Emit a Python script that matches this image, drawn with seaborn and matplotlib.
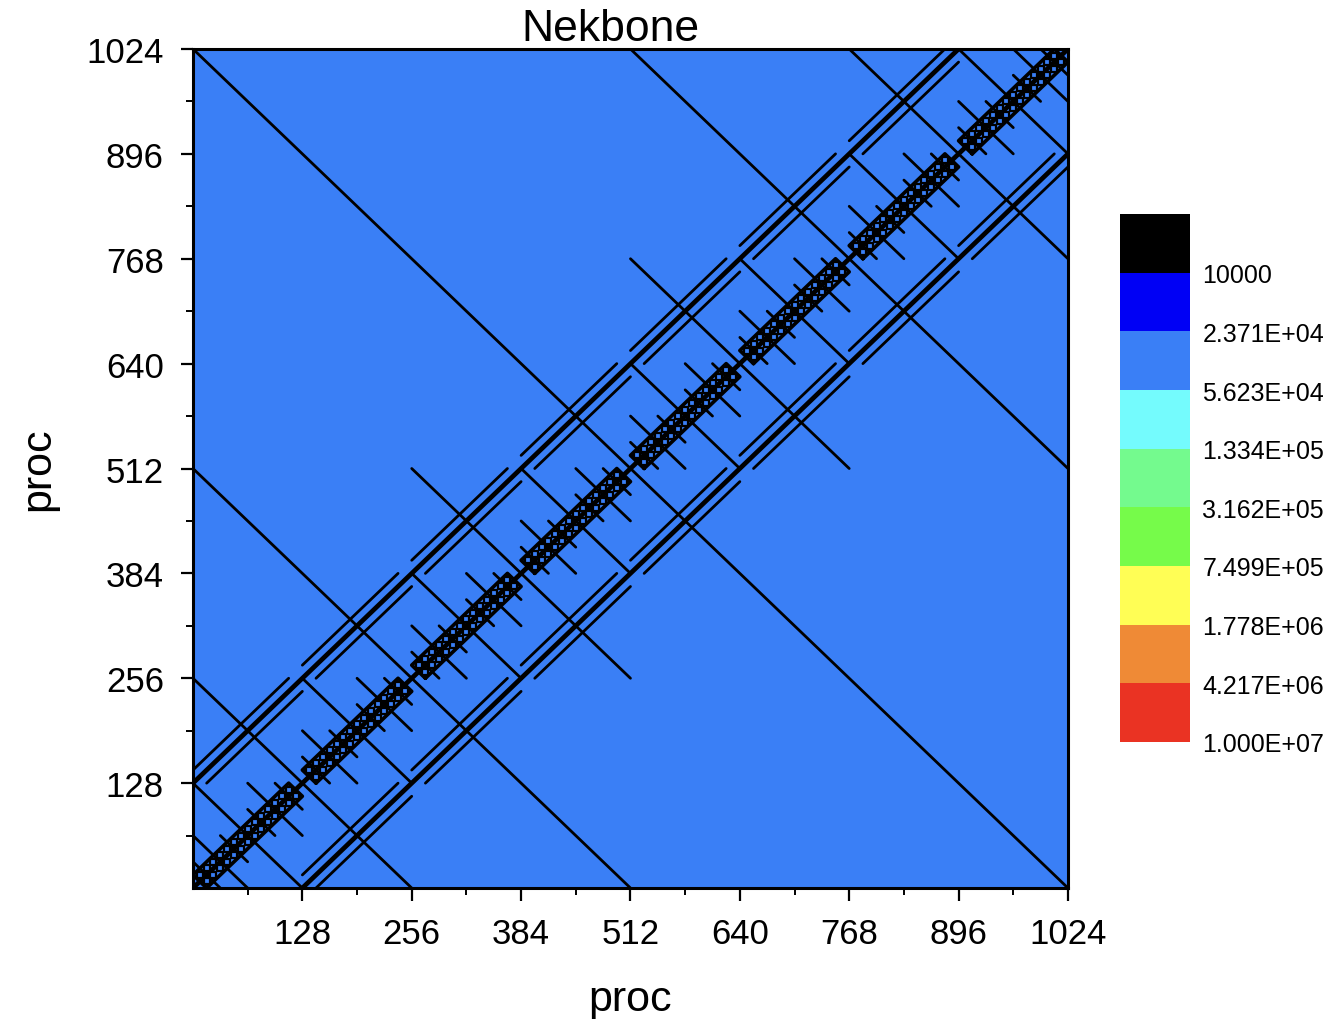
import numpy as np
import pandas as pd
import matplotlib
matplotlib.use("Agg")
import matplotlib.pyplot as plt
from matplotlib.colors import ListedColormap, BoundaryNorm
import seaborn as sns

# axis ticks (process ranks)
proc_ticks = [128, 256, 384, 512, 640, 768, 896, 1024]
proc_minor = [64, 192, 320, 448, 576, 704, 832, 960]

# colour levels of the contour map
level_bounds = [4217, 1.0e4, 2.371e4, 5.623e4, 1.334e5, 3.162e5,
                7.499e5, 1.778e6, 4.217e6, 1.0e7]
level_labels = ["10000", "2.371E+04", "5.623E+04", "1.334E+05", "3.162E+05",
                "7.499E+05", "1.778E+06", "4.217E+06", "1.000E+07"]
level_colors = ["#000000", "#0000F5", "#3A7FF6", "#74FBFD", "#74FA8E",
                "#76FB4A", "#FFFE55", "#EF8A36", "#EA3323"]

# the whole matrix falls in the 2.371E+04 .. 5.623E+04 band
grid_edges = [0, 1024]
matrix_values = [[4.0e4]]

# contour lines running across the diagonal: x + y = s, half width h (in x)
anti_h512 = [1024]
anti_h256 = [512, 1536]
anti_h128 = [256, 768, 1280, 1792]
anti_h64 = [128, 384, 640, 896, 1152, 1408, 1664, 1920]
anti_h32 = [64, 192, 320, 448, 576, 704, 832, 960,
            1088, 1216, 1344, 1472, 1600, 1728, 1856, 1984]
anti_h16 = [32, 96, 160, 224, 288, 352, 416, 480, 544, 608, 672, 736,
            800, 864, 928, 992, 1056, 1120, 1184, 1248, 1312, 1376, 1440,
            1504, 1568, 1632, 1696, 1760, 1824, 1888, 1952, 2016]

# contour lines running along the diagonal: y = x + c
main_band_centers = [128, 384, 640, 896, 1152, 1408, 1664, 1920]   # x + y at box centre
side_band_centers = [256, 512, 768, 1024, 1280, 1536, 1792]
side_offsets = [128, -128]
box_half_len = 112      # in x + y units
box_half_width = 16     # in y - x units
glyph_offset = 8
glyph_step = 16


def seg(s0, s1, c0, c1):
    # segment between (sum, offset) points -> x, y
    return [((s0 - c0) / 2, (s0 + c0) / 2), ((s1 - c1) / 2, (s1 + c1) / 2)]


thin, thick, boxes = [], [], []
for h, sums in [(512, anti_h512), (256, anti_h256), (128, anti_h128),
                (64, anti_h64), (32, anti_h32), (16, anti_h16)]:
    for s in sums:
        thin.append(seg(s, s, -2 * h, 2 * h))

thick.append(seg(0, 2048, 0, 0))
thick.append(seg(128, 1920, 128, 128))
thick.append(seg(128, 1920, -128, -128))

for c in side_offsets:
    for m in side_band_centers:
        for d in (-box_half_width, box_half_width):
            thin.append(seg(m - box_half_len, m + box_half_len, c + d, c + d))

glyph_x, glyph_y = [], []
for m in main_band_centers:
    a, b = m - box_half_len, m + box_half_len
    w = box_half_width
    boxes.append([seg(a, a, -w, -w)[0], seg(b, b, -w, -w)[0],
                  seg(b, b, w, w)[0], seg(a, a, w, w)[0], seg(a, a, -w, -w)[0]])
    for s in range(a + 8, b - 4, glyph_step):
        for c in (-glyph_offset, glyph_offset):
            glyph_x.append((s - c) / 2)
            glyph_y.append((s + c) / 2)


def to_frame(segments):
    rows = []
    for i, pts in enumerate(segments):
        for k, (x, y) in enumerate(pts):
            rows.append({"seg": i, "order": k, "x": x, "y": y})
    return pd.DataFrame(rows)


sns.set_theme(style="ticks")
plt.rcParams["font.family"] = ["Liberation Sans", "DejaVu Sans"]
plt.rcParams["text.color"] = "black"
plt.rcParams["axes.labelcolor"] = "black"
plt.rcParams["xtick.color"] = "black"
plt.rcParams["ytick.color"] = "black"

fig = plt.figure(figsize=(13.42, 10.2), dpi=100)
ax = fig.add_axes([0.1438, 0.1284, 0.652, 0.8226])
cax = fig.add_axes([0.8346, 0.2716, 0.052, 0.5176])

cmap = ListedColormap(level_colors)
norm = BoundaryNorm(level_bounds, cmap.N)
mesh = ax.pcolormesh(grid_edges, grid_edges, np.array(matrix_values),
                     cmap=cmap, norm=norm, zorder=0)

for segs, lw in [(thin, 2.0), (thick, 3.4), (boxes, 2.6)]:
    df = to_frame(segs)
    sns.lineplot(data=df, x="x", y="y", units="seg", estimator=None,
                 sort=False, color="black", linewidth=lw, ax=ax, zorder=3)

glyphs = pd.DataFrame({"x": glyph_x, "y": glyph_y})
sns.scatterplot(data=glyphs, x="x", y="y", marker="s", s=17,
                color=level_colors[2], edgecolor="black", linewidth=1.6,
                ax=ax, zorder=4)

ax.set_xlim(0, 1024)
ax.set_ylim(0, 1024)
ax.set_xticks(proc_ticks)
ax.set_yticks(proc_ticks)
ax.set_xticks(proc_minor, minor=True)
ax.set_yticks(proc_minor, minor=True)
ax.tick_params(axis="both", which="major", length=9, width=1.6,
               labelsize=25, direction="out")
ax.tick_params(axis="x", which="major", pad=12)
ax.tick_params(axis="y", which="major", pad=12)
ax.tick_params(axis="both", which="minor", length=5, width=1.4,
               direction="out")
ax.tick_params(top=False, right=False, which="both")
for sp in ax.spines.values():
    sp.set_linewidth(2.2)
    sp.set_color("black")
ax.set_xlabel("proc", fontsize=31, labelpad=21)
ax.set_ylabel("proc", fontsize=31, labelpad=20)
ax.set_title("Nekbone", fontsize=32, pad=6, x=0.477)

cb = fig.colorbar(mesh, cax=cax, ticks=level_bounds[1:])
cb.set_ticklabels(level_labels)
cb.outline.set_visible(False)
cax.minorticks_off()
cax.invert_yaxis()
cax.tick_params(which="both", length=0, labelsize=18, pad=9)

fig.savefig("out.png", dpi=100)
